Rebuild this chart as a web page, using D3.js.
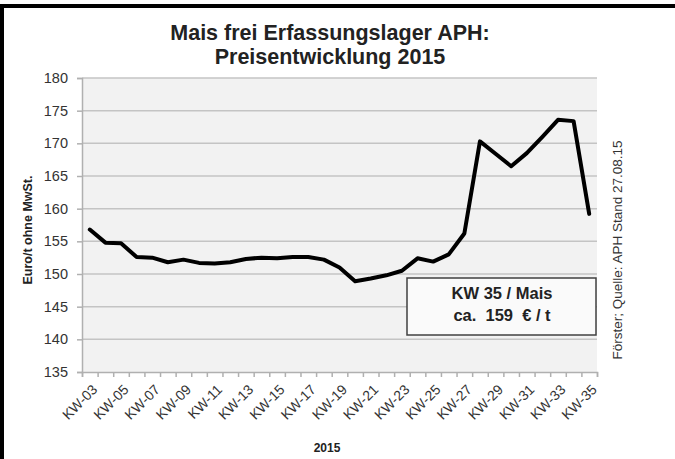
<!DOCTYPE html>
<html>
<head>
<meta charset="utf-8">
<script src="https://cdn.jsdelivr.net/npm/d3@7"></script>
<style>
  body { margin: 0; background: #fff; }
  svg { display: block; font-family: "Liberation Sans", Arial, sans-serif; }
</style>
</head>
<body>
<svg id="chart" width="675" height="459"></svg>
<script>
// weeks KW-03 .. KW-35
var weeks = ["KW-03","KW-04","KW-05","KW-06","KW-07","KW-08","KW-09","KW-10","KW-11","KW-12",
             "KW-13","KW-14","KW-15","KW-16","KW-17","KW-18","KW-19","KW-20","KW-21","KW-22",
             "KW-23","KW-24","KW-25","KW-26","KW-27","KW-28","KW-29","KW-30","KW-31","KW-32",
             "KW-33","KW-34","KW-35"];
var prices = [156.8, 154.8, 154.7, 152.6, 152.5, 151.8, 152.2, 151.7, 151.6, 151.8,
              152.3, 152.5, 152.4, 152.6, 152.6, 152.2, 151.0, 148.9, 149.3, 149.8,
              150.5, 152.4, 151.9, 153.0, 156.2, 170.3, 168.4, 166.5, 168.5, 171.0,
              173.6, 173.4, 159.2];
var yTicks = [135, 140, 145, 150, 155, 160, 165, 170, 175, 180];
var titleLines = ["Mais frei Erfassungslager APH:", "Preisentwicklung 2015"];
var noteLines = ["KW 35 / Mais", "ca.  159  € / t"];

var svg = d3.select("#chart");
var plotL = 82, plotR = 597, plotT = 78, plotB = 372;

// outer frame (cut off at right / bottom)
svg.append("path")
    .attr("d", "M2,459 L2,6 L675,6")
    .attr("fill", "none")
    .attr("stroke", "#000")
    .attr("stroke-width", 4);

var x = d3.scaleBand().domain(weeks).range([plotL, plotR]).padding(0);
var edge = d3.scaleLinear().domain([0, weeks.length]).range([plotL, plotR]);
var y = d3.scaleLinear().domain([135, 180]).range([plotB, plotT]);

svg.append("rect")
    .attr("x", plotL).attr("y", plotT)
    .attr("width", plotR - plotL).attr("height", plotB - plotT)
    .attr("fill", "#f2f2f2");

// gridlines
svg.append("g").selectAll("line")
    .data(yTicks.slice(1))
    .join("line")
    .attr("x1", plotL).attr("x2", plotR)
    .attr("y1", function(d){ return y(d); })
    .attr("y2", function(d){ return y(d); })
    .attr("stroke", "#c4c4c4")
    .attr("stroke-width", 1.5);

// y axis
var yAxis = svg.append("g")
    .attr("transform", "translate(" + plotL + ",0)")
    .call(d3.axisLeft(y).tickValues(yTicks).tickSize(5).tickPadding(9));
yAxis.select(".domain").attr("stroke", "#b0b0b0").attr("stroke-width", 1.5);
yAxis.selectAll(".tick line").attr("stroke", "#b0b0b0").attr("stroke-width", 1.5);
yAxis.selectAll("text")
    .attr("font-size", 14.5)
    .attr("fill", "#333")
    .attr("font-family", "Liberation Sans, Arial, sans-serif");

// x axis tick marks at category edges
var xTicks = svg.append("g")
    .attr("transform", "translate(0," + plotB + ")")
    .call(d3.axisBottom(edge).ticks(weeks.length).tickSize(5).tickFormat(""));
xTicks.select(".domain").attr("stroke", "#b0b0b0").attr("stroke-width", 1.5);
xTicks.selectAll(".tick line").attr("stroke", "#b0b0b0").attr("stroke-width", 1.5);

// x labels (every second week)
var xAxis = svg.append("g")
    .attr("transform", "translate(0," + plotB + ")")
    .call(d3.axisBottom(x)
        .tickValues(weeks.filter(function(d, i){ return i % 2 === 0; }))
        .tickSize(0));
xAxis.select(".domain").remove();
xAxis.selectAll("text")
    .attr("x", 0).attr("y", 0).attr("dy", "0.35em")
    .attr("text-anchor", "end")
    .attr("transform", "translate(5,15) rotate(-45)")
    .attr("font-size", 14)
    .attr("fill", "#333")
    .attr("font-family", "Liberation Sans, Arial, sans-serif");

// price line
var line = d3.line()
    .x(function(d, i){ return x(weeks[i]) + x.bandwidth() / 2; })
    .y(function(d){ return y(d); });

svg.append("path")
    .datum(prices)
    .attr("d", line)
    .attr("fill", "none")
    .attr("stroke", "#000")
    .attr("stroke-width", 4)
    .attr("stroke-linejoin", "round")
    .attr("stroke-linecap", "round");

// title
svg.append("g").selectAll("text")
    .data(titleLines)
    .join("text")
    .attr("x", 330)
    .attr("y", function(d, i){ return 40 + i * 24; })
    .attr("text-anchor", "middle")
    .attr("font-size", 21.5)
    .attr("font-weight", "bold")
    .attr("fill", "#222")
    .text(function(d){ return d; });

// axis titles
svg.append("text")
    .attr("transform", "translate(32,230) rotate(-90)")
    .attr("text-anchor", "middle")
    .attr("font-size", 12.5)
    .attr("font-weight", "bold")
    .attr("fill", "#222")
    .text("Euro/t ohne MwSt.");

svg.append("text")
    .attr("x", 327).attr("y", 452)
    .attr("text-anchor", "middle")
    .attr("font-size", 12)
    .attr("font-weight", "bold")
    .attr("fill", "#222")
    .text("2015");

// source note
svg.append("text")
    .attr("transform", "translate(622,250) rotate(-90)")
    .attr("text-anchor", "middle")
    .attr("font-size", 13.5)
    .attr("fill", "#333")
    .text("Förster; Quelle: APH Stand 27.08.15");

// info box
svg.append("rect")
    .attr("x", 407).attr("y", 278)
    .attr("width", 189).attr("height", 57)
    .attr("fill", "#fafafa")
    .attr("stroke", "#404040")
    .attr("stroke-width", 1.5);

svg.append("g").selectAll("text")
    .data(noteLines)
    .join("text")
    .attr("x", 502)
    .attr("y", function(d, i){ return 299 + i * 22; })
    .attr("text-anchor", "middle")
    .attr("font-size", 16.5)
    .attr("font-weight", "bold")
    .attr("fill", "#222")
    .style("white-space", "pre")
    .text(function(d){ return d; });
</script>
</body>
</html>
